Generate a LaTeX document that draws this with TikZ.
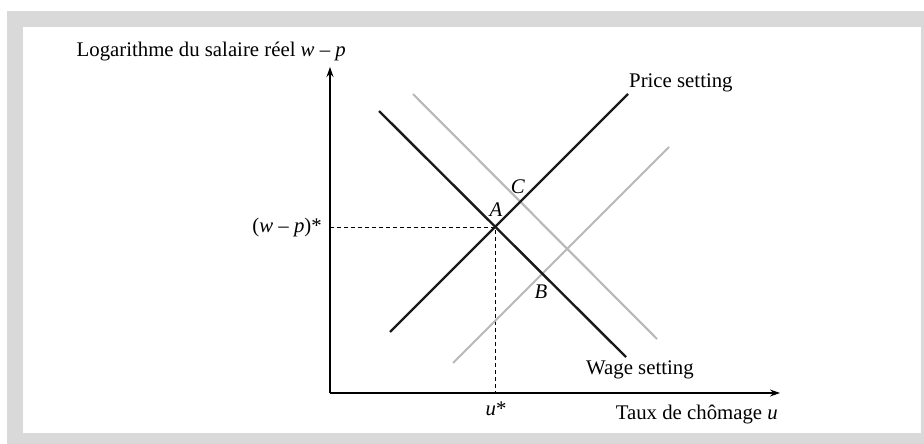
\documentclass[tikz,border=0pt]{standalone}
\usepackage{fontspec}
\setmainfont{Liberation Serif}
\usetikzlibrary{arrows.meta}
\definecolor{framegray}{HTML}{D9D9D9}
\definecolor{shiftgray}{HTML}{B8B8B8}
\definecolor{curveblack}{HTML}{1A1A1A}
\begin{document}
\begin{tikzpicture}[x=1pt,y=-1pt,
  lbl/.style={inner sep=0pt, font=\fontsize{20.8}{24}\selectfont},
  blackline/.style={line width=2.4pt, color=curveblack},
  grayline/.style={line width=2.1pt, color=shiftgray},
  axisline/.style={line width=1.1pt, -{Stealth[length=10pt,width=7pt]}},
  guide/.style={line width=0.9pt, dash pattern=on 4pt off 3pt}]
\useasboundingbox (0,0) rectangle (924,444);
\fill[framegray] (7,11) rectangle (924,444);
\fill[white] (23,27) rectangle (921,433);
% coordinates
\coordinate (O) at (330,393);
\coordinate (Ytip) at (330,67);
\coordinate (Xtip) at (780,393);
\coordinate (W1) at (379,111); \coordinate (W2) at (626,357);
\coordinate (P1) at (390,332); \coordinate (P2) at (628,94);
\coordinate (GW1) at (413,94); \coordinate (GW2) at (657,339);
\coordinate (GP1) at (453,363); \coordinate (GP2) at (669,147);
\coordinate (A) at (495,227);
\coordinate (Ax) at (495,393);
\coordinate (Ay) at (330,227);
% axes
\draw[axisline] (O) -- (Ytip);
\draw[axisline] (O) -- (Xtip);
% guides
\draw[guide] (Ay) -- (A) -- (Ax);
% curves
\draw[grayline] (GW1) -- (GW2);
\draw[grayline] (GP1) -- (GP2);
\draw[blackline] (W1) -- (W2);
\draw[blackline] (P1) -- (P2);
% labels
\node[lbl, anchor=base east] (title) at (346,57) {Logarithme du salaire réel \textit{w} \textendash{} \textit{p}};
\node[lbl, anchor=base west] (ps) at (629,88) {Price setting};
\node[lbl, anchor=base west] (ws) at (586,374) {Wage setting};
\node[lbl, anchor=base east] (xl) at (778,419) {Taux de chômage \textit{u}};
\node[lbl, anchor=east] (wp) at (322,227) {(\textit{w} \textendash{} \textit{p})*};
\node[lbl, anchor=base] (us) at (496,415) {\textit{u}*};
\node[lbl, anchor=base] (lA) at (496,216.5) {\textit{A}};
\node[lbl, anchor=base] (lC) at (518,193.5) {\textit{C}};
\node[lbl, anchor=base] (lB) at (541,298.5) {\textit{B}};
\end{tikzpicture}
\end{document}
